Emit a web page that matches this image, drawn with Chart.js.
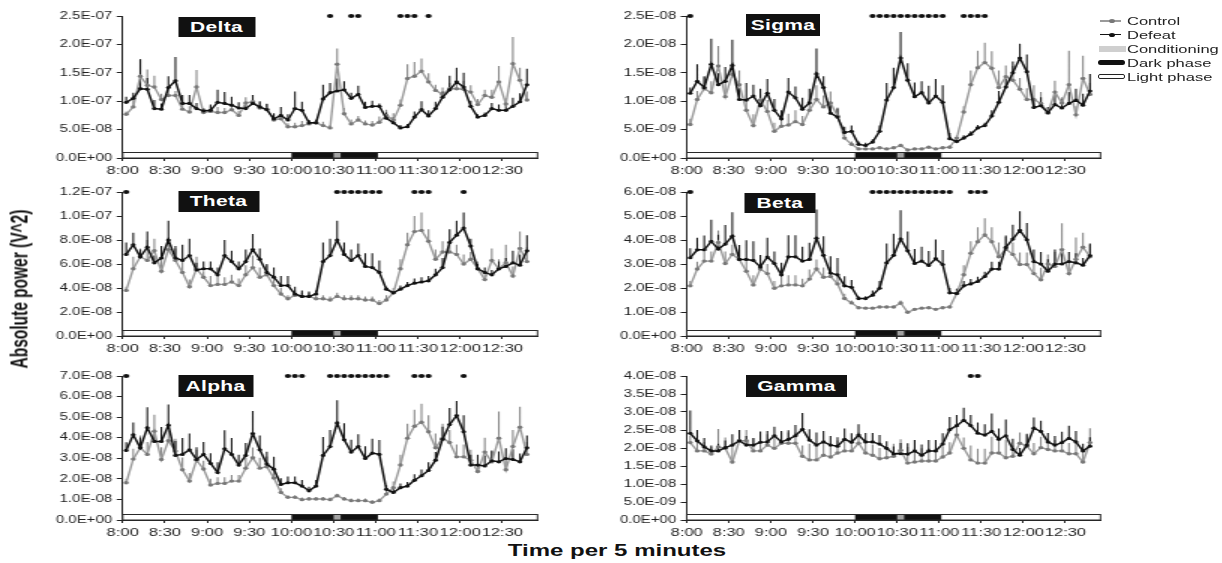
<!DOCTYPE html>
<html>
<head>
<meta charset="utf-8">
<script src="https://cdn.jsdelivr.net/npm/chart.js@4.4.1/dist/chart.umd.min.js"></script>
<style>
  html, body { margin: 0; padding: 0; background: #fff; width: 1222px; height: 563px; overflow: hidden;
    font-family: 'Liberation Sans', Arial, sans-serif; }
  .panel { position: absolute; transform-origin: 0 0; transform: scaleX(1.5); }
  .panel canvas { display: block; }
  .badge { position: absolute; background: #111; color: #fff; font-weight: bold; font-size: 14px;
    text-align: center; letter-spacing: 0.2px; }
  .lg-text { position: absolute; font-size: 11px; line-height: 14px; color: #222; white-space: nowrap;
    transform-origin: 0 50%; transform: scaleX(1.5); }
  .lg-sym { position: absolute; box-sizing: border-box; }
  .axis-title { position: absolute; font-weight: bold; color: #111; white-space: nowrap; }
</style>
</head>
<body>
<script>
// ---- time axis: 5-minute bins from 8:00, labelled every 30 minutes ----
const timeLabels = ['8:00', '8:30', '9:00', '9:30', '10:00', '10:30', '11:00', '11:30', '12:00', '12:30'];
const darkPhaseBins = [23.5, 35.8];      // 10:00 – 11:00
const conditioningBins = [29.5, 30.5];   // 10:30 bin

// ---- Delta (x 1E-07 V^2) ----
const deltaControl = [0.77,0.90,1.44,1.28,1.25,1.03,1.10,1.10,0.86,0.81,1.25,0.80,0.82,0.80,0.80,0.85,0.75,0.97,0.99,0.88,0.86,0.67,0.69,0.55,0.55,0.57,0.60,0.62,0.57,0.53,1.65,0.78,0.60,0.67,0.60,0.58,0.63,0.75,0.67,0.93,1.40,1.44,1.53,1.34,1.19,1.12,1.22,1.22,1.21,1.16,0.94,1.10,1.07,1.34,0.95,1.66,1.37,1.02];
const deltaDefeat = [0.98,1.05,1.22,1.21,0.87,0.86,1.24,1.36,0.96,0.96,0.87,0.83,0.84,0.98,0.96,0.93,0.88,0.87,0.96,0.90,0.85,0.69,0.75,0.67,0.87,0.84,0.62,0.62,1.04,1.15,1.18,1.20,1.05,1.12,0.89,0.91,0.91,0.70,0.62,0.53,0.55,0.72,0.85,0.74,0.87,1.07,1.20,1.34,1.25,0.91,0.72,0.75,0.87,0.84,0.84,0.91,0.99,1.29];
const deltaControlErr = [0.05,0.20,0.30,0.28,0.20,0.10,0.12,0.08,0.15,0.10,0.30,0.06,0.10,0.10,0.08,0.12,0.08,0.10,0.12,0.10,0.10,0.10,0.08,0.06,0.07,0.08,0.07,0.06,0.07,0.05,0.28,0.10,0.08,0.07,0.06,0.07,0.10,0.10,0.12,0.10,0.25,0.25,0.22,0.15,0.10,0.12,0.10,0.12,0.15,0.12,0.10,0.10,0.13,0.28,0.10,0.47,0.22,0.15];
const deltaDefeatErr = [0.10,0.10,0.52,0.20,0.15,0.10,0.20,0.42,0.15,0.15,0.10,0.05,0.10,0.22,0.20,0.15,0.10,0.08,0.15,0.10,0.10,0.10,0.15,0.10,0.30,0.15,0.05,0.05,0.25,0.17,0.22,0.15,0.10,0.15,0.10,0.10,0.05,0.10,0.10,0.05,0.05,0.10,0.15,0.10,0.12,0.10,0.25,0.25,0.25,0.10,0.05,0.05,0.10,0.10,0.10,0.15,0.15,0.28];
const deltaSig = [29,32,33,39,40,41,43];

// ---- Sigma (x 1E-08 V^2) ----
const sigmaControl = [0.59,1.03,1.22,1.15,1.62,1.08,1.47,1.29,0.84,0.57,1.02,0.82,0.47,0.56,0.58,0.64,0.59,0.84,1.03,0.90,0.97,0.74,0.35,0.24,0.16,0.16,0.16,0.18,0.16,0.18,0.22,0.14,0.16,0.16,0.19,0.16,0.18,0.19,0.35,0.81,1.29,1.59,1.68,1.58,1.24,1.43,1.37,1.21,1.03,1.03,0.96,0.79,1.16,0.97,1.29,0.76,1.40,1.12];
const sigmaDefeat = [1.14,1.35,1.24,1.65,1.29,1.35,1.63,1.03,1.02,1.09,0.92,1.14,0.84,0.69,1.16,1.06,0.86,0.97,1.48,1.24,0.79,0.72,0.45,0.47,0.24,0.22,0.28,0.47,1.02,1.24,1.76,1.37,1.08,1.15,0.97,1.09,0.98,0.34,0.29,0.35,0.42,0.53,0.57,0.74,0.98,1.25,1.50,1.76,1.52,0.89,0.92,0.80,0.94,0.88,0.96,1.02,0.93,1.18];
const sigmaControlErr = [0.10,0.15,0.20,0.20,0.35,0.30,0.20,0.25,0.20,0.20,0.10,0.20,0.15,0.20,0.20,0.20,0.15,0.20,0.25,0.20,0.20,0.15,0.10,0.05,0.02,0.02,0.02,0.02,0.02,0.02,0.03,0.02,0.02,0.02,0.02,0.02,0.02,0.03,0.05,0.10,0.25,0.30,0.35,0.30,0.30,0.20,0.25,0.20,0.20,0.25,0.20,0.10,0.20,0.10,0.60,0.15,0.40,0.20];
const sigmaDefeatErr = [0.10,0.30,0.20,0.45,0.20,0.25,0.45,0.20,0.30,0.20,0.30,0.25,0.20,0.15,0.25,0.20,0.20,0.25,0.45,0.20,0.20,0.15,0.10,0.10,0.05,0.05,0.05,0.10,0.30,0.35,0.46,0.30,0.25,0.20,0.30,0.30,0.30,0.10,0.05,0.05,0.05,0.05,0.05,0.10,0.20,0.15,0.20,0.25,0.30,0.15,0.15,0.10,0.20,0.15,0.20,0.20,0.20,0.30];
const sigmaSig = [0,26,27,28,29,30,31,32,33,34,35,36,39,40,41,42];

// ---- Theta (x 1E-08 V^2) ----
const thetaControl = [3.8,5.6,6.6,6.3,7.1,5.4,7.2,6.3,5.3,4.1,5.6,4.9,4.2,4.3,4.3,4.5,4.2,5.1,5.7,4.9,5.1,4.2,3.5,3.1,3.4,3.3,3.3,3.1,3.1,3.0,3.3,3.1,3.1,3.1,3.0,3.0,2.7,3.0,3.6,5.6,7.6,8.7,8.8,7.9,6.4,7.0,7.0,6.8,6.0,6.4,5.6,4.7,6.3,5.6,6.1,5.0,7.3,6.2];
const thetaDefeat = [6.8,7.6,6.6,7.4,6.1,6.5,8.0,6.5,6.3,6.7,5.5,5.6,5.6,5.1,6.7,6.2,5.6,6.2,7.2,6.4,5.3,4.9,4.2,4.2,3.5,3.3,3.3,3.5,6.2,6.7,8.0,6.8,6.3,6.7,5.8,5.7,5.3,3.9,3.6,3.9,4.2,4.4,4.5,4.6,5.1,5.7,7.8,8.4,9.0,7.5,5.6,5.3,5.1,5.6,5.8,6.1,5.9,7.1];
const thetaControlErr = [0.3,1.0,0.7,1.7,1.0,1.2,1.0,1.0,1.2,0.6,1.0,0.5,0.8,0.7,0.6,0.6,0.6,0.8,1.0,0.8,0.8,0.6,0.5,0.3,0.4,0.3,0.3,0.3,0.3,0.3,0.3,0.3,0.3,0.3,0.3,0.3,0.3,0.4,0.4,0.8,1.0,1.3,1.5,1.0,0.8,0.9,0.9,0.8,0.8,0.6,0.6,0.6,1.0,0.8,1.5,0.8,1.4,1.2];
const thetaDefeatErr = [1.0,1.0,0.6,1.3,0.6,1.0,1.6,1.0,1.3,1.4,0.6,0.6,0.6,0.6,1.3,0.9,0.6,1.0,1.3,0.9,0.7,0.8,0.8,0.8,0.6,0.5,0.4,0.3,1.6,1.4,1.6,1.0,0.9,1.0,1.1,1.2,1.0,0.2,0.2,0.3,0.3,0.4,0.4,0.4,0.5,0.8,1.1,1.2,1.3,0.6,0.4,0.4,0.4,0.6,0.7,1.0,0.9,1.3];
const thetaSig = [0,30,31,32,33,34,35,36,41,42,43,48];

// ---- Beta (x 1E-08 V^2) ----
const betaControl = [2.09,2.79,3.12,3.12,3.90,3.02,3.40,3.19,2.70,2.13,2.79,2.60,1.99,2.09,2.13,2.13,2.09,2.37,2.79,2.45,2.48,2.17,1.56,1.38,1.18,1.16,1.16,1.21,1.21,1.21,1.38,0.99,1.11,1.16,1.18,1.11,1.18,1.21,1.77,2.55,3.45,3.93,4.21,3.93,3.30,3.62,3.40,2.98,2.98,2.60,2.34,3.00,2.90,3.60,2.60,3.20,3.70,3.30];
const betaDefeat = [3.26,3.59,3.59,3.94,3.62,3.83,4.16,3.19,3.19,3.15,2.88,3.29,3.02,2.55,3.30,3.30,3.12,3.19,4.07,3.36,2.62,2.55,2.09,2.03,1.56,1.56,1.70,1.99,3.05,3.36,4.04,3.55,3.02,3.12,2.94,3.22,2.98,1.80,1.77,2.09,2.17,2.27,2.48,2.79,2.79,3.69,4.04,4.40,4.01,3.10,3.00,2.70,3.00,3.00,3.10,3.05,2.95,3.35];
const betaControlErr = [0.2,0.3,0.4,0.4,0.5,0.5,0.4,0.4,0.5,0.4,0.4,0.4,0.3,0.4,0.4,0.4,0.3,0.4,0.4,0.4,0.4,0.4,0.2,0.1,0.05,0.05,0.05,0.05,0.05,0.05,0.1,0.05,0.05,0.05,0.05,0.05,0.05,0.05,0.2,0.4,0.5,0.6,0.7,0.6,0.6,0.5,0.5,0.5,0.5,0.5,0.5,0.4,0.6,1.1,0.5,0.9,0.6,0.5];
const betaDefeatErr = [0.4,0.5,0.6,0.9,0.6,0.8,1.0,0.6,0.8,0.8,0.5,0.8,0.5,0.5,0.9,0.9,0.6,0.7,1.2,0.8,0.7,0.7,0.4,0.3,0.1,0.1,0.2,0.3,0.8,0.9,1.2,0.8,0.6,0.6,0.6,0.8,0.6,0.2,0.2,0.2,0.2,0.2,0.2,0.3,0.3,0.5,0.6,0.8,0.7,0.5,0.5,0.5,0.6,0.6,0.4,0.4,0.3,0.5];
const betaSig = [0,26,27,28,29,30,31,32,33,34,35,36,37,40,41,42];

// ---- Alpha (x 1E-08 V^2) ----
const alphaControl = [1.81,2.96,3.51,3.19,4.32,2.94,3.85,3.35,2.44,1.89,2.91,2.48,1.70,1.78,1.78,1.89,1.89,2.52,3.03,2.52,2.59,2.04,1.34,1.10,1.10,0.99,1.02,1.02,1.02,0.99,1.18,1.02,0.94,0.94,0.94,0.86,0.94,1.26,1.57,2.67,3.98,4.56,4.75,4.29,3.51,3.98,3.77,3.07,3.07,2.91,2.36,3.30,2.83,3.98,2.44,3.57,4.51,3.19];
const alphaDefeat = [3.38,4.14,3.51,4.48,3.82,3.82,4.61,3.14,3.19,3.41,2.94,3.19,2.75,2.31,3.46,3.19,2.67,3.14,4.20,3.41,2.72,2.47,1.73,1.81,1.81,1.65,1.42,1.65,3.14,3.57,4.72,3.90,3.30,3.57,2.99,3.25,3.19,1.49,1.34,1.57,1.65,1.93,2.15,2.41,2.91,3.93,4.64,5.08,4.29,2.67,2.67,2.63,2.88,2.83,2.99,2.94,2.83,3.51];
const alphaControlErr = [0.2,0.5,0.6,0.6,0.8,0.6,0.5,0.6,0.6,0.4,0.5,0.4,0.3,0.3,0.3,0.3,0.3,0.5,0.5,0.5,0.5,0.4,0.2,0.1,0.1,0.1,0.1,0.1,0.1,0.1,0.1,0.1,0.1,0.1,0.1,0.1,0.1,0.2,0.3,0.5,0.7,0.8,0.9,0.8,0.7,0.7,0.6,0.6,0.6,0.5,0.4,0.7,0.5,1.3,0.6,0.8,1.0,0.6];
const alphaDefeatErr = [0.4,0.6,0.5,1.0,0.5,0.7,1.0,0.7,0.8,0.8,0.6,0.6,0.5,0.5,0.9,0.8,0.5,0.6,1.1,0.7,0.6,0.6,0.3,0.3,0.3,0.3,0.2,0.3,0.9,0.8,1.1,0.8,0.6,0.6,0.6,0.7,0.7,0.2,0.2,0.2,0.2,0.3,0.3,0.4,0.4,0.6,0.8,0.7,0.8,0.5,0.5,0.5,0.5,0.5,0.5,0.5,0.4,0.6];
const alphaSig = [0,23,24,25,29,30,31,32,33,34,35,36,37,41,42,43,48];

// ---- Gamma (x 1E-08 V^2) ----
const gammaControl = [2.15,1.92,1.92,1.83,2.03,1.99,1.61,2.20,2.20,1.92,1.92,2.08,1.99,2.13,2.13,2.13,1.77,1.67,1.67,1.80,1.75,1.86,1.92,1.92,2.13,1.86,1.80,1.70,1.73,1.77,1.94,1.58,1.61,1.64,1.64,1.64,1.75,1.86,2.36,1.99,1.67,1.58,1.58,1.86,1.86,1.73,1.77,2.13,2.05,1.84,2.01,1.96,1.92,1.92,1.84,1.84,1.61,2.15];
const gammaDefeat = [2.41,2.20,2.03,1.92,1.92,2.01,2.08,2.20,2.08,2.08,2.16,2.17,2.34,2.17,2.24,2.34,2.52,2.22,2.08,2.17,2.08,2.05,2.24,2.16,2.36,2.17,2.17,2.11,1.99,1.84,1.84,1.83,1.92,1.80,1.92,1.92,2.11,2.51,2.62,2.77,2.62,2.41,2.36,2.46,2.24,2.34,1.96,1.80,2.08,2.55,2.46,2.17,2.08,2.15,2.27,2.17,1.92,2.05];
const gammaControlErr = [0.2,0.25,0.25,0.2,0.5,0.3,0.5,0.3,0.3,0.35,0.3,0.3,0.3,0.3,0.3,0.3,0.3,0.45,0.4,0.4,0.35,0.35,0.3,0.3,0.3,0.3,0.3,0.3,0.3,0.35,0.3,0.45,0.4,0.35,0.35,0.35,0.3,0.3,0.3,0.3,0.4,0.4,0.4,0.45,0.4,0.5,0.3,0.3,0.35,0.3,0.3,0.3,0.3,0.3,0.3,0.3,0.35,0.4];
const gammaDefeatErr = [0.63,0.3,0.25,0.15,0.2,0.2,0.3,0.3,0.25,0.2,0.3,0.3,0.25,0.3,0.25,0.3,0.45,0.3,0.35,0.3,0.25,0.25,0.3,0.25,0.3,0.25,0.25,0.25,0.2,0.2,0.3,0.3,0.3,0.3,0.3,0.3,0.3,0.35,0.3,0.35,0.3,0.3,0.3,0.5,0.3,0.45,0.3,0.2,0.3,0.3,0.3,0.25,0.25,0.3,0.35,0.3,0.2,0.25];
const gammaSig = [40,41];

// ---- legend entries ----
const legendLabels = ['Control', 'Defeat', 'Conditioning', 'Dark phase', 'Light phase'];

// ---- layout ----
const STRETCH = 1.5;            // figure is drawn horizontally stretched
const CANVAS_W = 370;
const PAD_TOP = 16, X_AXIS_H = 22, PHASE_H = 5.5;
const COLS = [
  { left: 0,   axisLeft: 122.7, axisRight: 537.5 },
  { left: 560, axisLeft: 686.7, axisRight: 1100.5 }
];
const ROWS = [
  { top: 16,    bottom: 158 },
  { top: 192,   bottom: 336 },
  { top: 375.5, bottom: 520 }
];
const FONT = "'Liberation Sans', Arial, sans-serif";
const CONTROL_LINE = '#9a9a9a', CONTROL_POINT = '#787878', CONTROL_ERR = '#888888';
const DEFEAT_LINE = '#121212', DEFEAT_ERR = '#1a1a1a';

const panels = [
  { name: 'Delta', unit: 1e-7, yMax: 2.5, yStep: 0.5, control: deltaControl, defeat: deltaDefeat,
    controlErr: deltaControlErr, defeatErr: deltaDefeatErr, sig: deltaSig, col: 0, row: 0, badge: [178, 16.5, 77, 20] },
  { name: 'Sigma', unit: 1e-8, yMax: 2.5, yStep: 0.5, control: sigmaControl, defeat: sigmaDefeat,
    controlErr: sigmaControlErr, defeatErr: sigmaDefeatErr, sig: sigmaSig, col: 1, row: 0, badge: [746, 14, 74, 22] },
  { name: 'Theta', unit: 1e-8, yMax: 12, yStep: 2, control: thetaControl, defeat: thetaDefeat,
    controlErr: thetaControlErr, defeatErr: thetaDefeatErr, sig: thetaSig, col: 0, row: 1, badge: [178, 191, 81, 21] },
  { name: 'Beta', unit: 1e-8, yMax: 6, yStep: 1, control: betaControl, defeat: betaDefeat,
    controlErr: betaControlErr, defeatErr: betaDefeatErr, sig: betaSig, col: 1, row: 1, badge: [745, 193, 70, 20] },
  { name: 'Alpha', unit: 1e-8, yMax: 7, yStep: 1, control: alphaControl, defeat: alphaDefeat,
    controlErr: alphaControlErr, defeatErr: alphaDefeatErr, sig: alphaSig, col: 0, row: 2, badge: [178, 375, 75, 22] },
  { name: 'Gamma', unit: 1e-8, yMax: 4, yStep: 0.5, control: gammaControl, defeat: gammaDefeat,
    controlErr: gammaControlErr, defeatErr: gammaDefeatErr, sig: gammaSig, col: 1, row: 2, badge: [746, 375, 101, 22] }
];

function sciLabel(v) {
  if (Math.abs(v) < 1e-15) return '0.0E+00';
  const [m, e] = v.toExponential(1).split('e');
  const n = parseInt(e, 10);
  return m + 'E' + (n < 0 ? '-' : '+') + String(Math.abs(n)).padStart(2, '0');
}

Chart.defaults.font.family = FONT;
Chart.defaults.color = '#222';

panels.forEach(p => {
  const c = COLS[p.col], r = ROWS[p.row];
  const wrapTop = r.top - PAD_TOP;
  const h = r.bottom - r.top + PAD_TOP + X_AXIS_H;

  const wrap = document.createElement('div');
  wrap.className = 'panel';
  Object.assign(wrap.style, { left: c.left + 'px', top: wrapTop + 'px', width: CANVAS_W + 'px', height: h + 'px' });
  const canvas = document.createElement('canvas');
  canvas.width = CANVAS_W; canvas.height = h;
  canvas.style.width = CANVAS_W + 'px'; canvas.style.height = h + 'px';
  wrap.appendChild(canvas);

  const [bx, by, bw, bh] = p.badge;
  const badge = document.createElement('div');
  badge.className = 'badge';
  badge.textContent = p.name;
  Object.assign(badge.style, {
    left: ((bx - c.left) / STRETCH) + 'px', top: (by - wrapTop) + 'px',
    width: (bw / STRETCH) + 'px', height: bh + 'px', lineHeight: bh + 'px'
  });
  wrap.appendChild(badge);
  document.body.appendChild(wrap);

  const yW = (c.axisLeft - c.left) / STRETCH;
  const padR = CANVAS_W - (c.axisRight - c.left) / STRETCH;
  const toPoints = arr => arr.map((v, i) => ({ x: i, y: v * p.unit }));
  const nTicks = Math.round(p.yMax / p.yStep);

  // light/dark phase strip along the time axis
  const phaseBar = {
    id: 'phaseBar',
    beforeDatasetsDraw(chart) {
      const { ctx, chartArea: a, scales: { x } } = chart;
      const top = a.bottom - PHASE_H;
      ctx.save();
      ctx.fillStyle = '#fff';
      ctx.fillRect(a.left, top, a.right - a.left, PHASE_H);
      const seg = (range, color) => {
        const x0 = x.getPixelForValue(range[0]), x1 = x.getPixelForValue(range[1]);
        ctx.fillStyle = color;
        ctx.fillRect(x0, top, x1 - x0, PHASE_H);
      };
      seg(darkPhaseBins, '#111');
      seg(conditioningBins, '#a3a3a3');
      ctx.strokeStyle = '#2a2a2a';
      ctx.lineWidth = 1;
      ctx.strokeRect(a.left, top, a.right - a.left, PHASE_H);
      ctx.restore();
    }
  };

  // upward SEM whiskers
  const errorBars = {
    id: 'errorBars',
    beforeDatasetsDraw(chart) {
      const { ctx, scales: { x, y } } = chart;
      ctx.save();
      for (let d = chart.data.datasets.length - 1; d >= 0; d--) {
        const ds = chart.data.datasets[d];
        ctx.strokeStyle = ds.errColor;
        ctx.lineWidth = 1.1;
        ctx.beginPath();
        ds.data.forEach((pt, i) => {
          const px = x.getPixelForValue(pt.x);
          ctx.moveTo(px, y.getPixelForValue(pt.y));
          ctx.lineTo(px, y.getPixelForValue(pt.y + ds.errors[i] * p.unit));
        });
        ctx.stroke();
      }
      ctx.restore();
    }
  };

  // significance markers along the top edge
  const sigMarks = {
    id: 'sigMarks',
    afterDatasetsDraw(chart) {
      const { ctx, chartArea: a, scales: { x } } = chart;
      ctx.save();
      ctx.fillStyle = '#111';
      p.sig.forEach(i => {
        ctx.beginPath();
        ctx.ellipse(x.getPixelForValue(i), a.top, 2.1, 1.9, 0, 0, Math.PI * 2);
        ctx.fill();
      });
      ctx.restore();
    }
  };

  new Chart(canvas, {
    type: 'line',
    data: {
      datasets: [
        { label: 'Defeat', data: toPoints(p.defeat), errors: p.defeatErr, errColor: DEFEAT_ERR,
          borderColor: DEFEAT_LINE, backgroundColor: DEFEAT_LINE, borderWidth: 1.5,
          pointRadius: 1.6, pointBorderWidth: 0, pointBackgroundColor: DEFEAT_LINE, tension: 0 },
        { label: 'Control', data: toPoints(p.control), errors: p.controlErr, errColor: CONTROL_ERR,
          borderColor: CONTROL_LINE, backgroundColor: CONTROL_POINT, borderWidth: 1.4,
          pointRadius: 1.7, pointBorderWidth: 0, pointBackgroundColor: CONTROL_POINT, tension: 0 }
      ]
    },
    options: {
      responsive: false,
      animation: false,
      devicePixelRatio: 1,
      events: [],
      layout: { padding: { top: PAD_TOP, right: padR, bottom: 0, left: 0 } },
      plugins: { legend: { display: false }, tooltip: { enabled: false } },
      scales: {
        x: {
          type: 'linear', min: -0.5, max: 58.5,
          afterBuildTicks: s => { s.ticks = timeLabels.map((_, k) => ({ value: -0.5 + 6 * k })); },
          afterFit: s => { s.height = X_AXIS_H; },
          ticks: { autoSkip: false, maxRotation: 0, minRotation: 0, padding: 3, color: '#222',
            font: { size: 11 }, callback: (v, idx) => timeLabels[idx] },
          grid: { drawOnChartArea: false, drawTicks: true, tickLength: 3, color: '#222', lineWidth: 1 },
          border: { display: true, color: '#222', width: 1 }
        },
        y: {
          min: 0, max: p.yMax * p.unit,
          afterBuildTicks: s => {
            s.ticks = Array.from({ length: nTicks + 1 }, (_, k) => ({ value: k * p.yStep * p.unit }));
          },
          afterFit: s => { s.width = yW; },
          ticks: { padding: 3, color: '#222', font: { size: 10 }, callback: v => sciLabel(v) },
          grid: { drawOnChartArea: false, drawTicks: true, tickLength: 4, color: '#222', lineWidth: 1 },
          border: { display: true, color: '#222', width: 1 }
        }
      }
    },
    plugins: [phaseBar, errorBars, sigMarks]
  });
});

// ---- legend ----
(function buildLegend() {
  const rowsY = [21, 34.5, 48.5, 62.5, 76.5];
  const symbols = [
    { type: 'line', line: CONTROL_LINE, dot: CONTROL_POINT },
    { type: 'line', line: DEFEAT_LINE, dot: DEFEAT_LINE },
    { type: 'bar', fill: '#cfcfcf', border: 'none', h: 6, x0: 1099, x1: 1126 },
    { type: 'bar', fill: '#111', border: 'none', h: 5, x0: 1098, x1: 1125, radius: 3 },
    { type: 'bar', fill: '#fff', border: '1px solid #222', h: 5, x0: 1098, x1: 1125, radius: 2 }
  ];
  legendLabels.forEach((label, i) => {
    const y = rowsY[i], s = symbols[i];
    if (s.type === 'line') {
      const ln = document.createElement('div');
      ln.className = 'lg-sym';
      Object.assign(ln.style, { left: '1100px', top: (y - 0.75) + 'px', width: '21px', height: '1.5px', background: s.line });
      document.body.appendChild(ln);
      const dt = document.createElement('div');
      dt.className = 'lg-sym';
      Object.assign(dt.style, { left: '1109px', top: (y - 2) + 'px', width: '6px', height: '4px', borderRadius: '50%', background: s.dot });
      document.body.appendChild(dt);
    } else {
      const b = document.createElement('div');
      b.className = 'lg-sym';
      Object.assign(b.style, { left: s.x0 + 'px', top: (y - s.h / 2) + 'px', width: (s.x1 - s.x0) + 'px', height: s.h + 'px',
        background: s.fill, border: s.border, borderRadius: (s.radius || 0) + 'px' });
      document.body.appendChild(b);
    }
    const t = document.createElement('div');
    t.className = 'lg-text';
    t.textContent = label;
    Object.assign(t.style, { left: '1127px', top: (y - 7) + 'px' });
    document.body.appendChild(t);
  });
})();

// ---- axis titles ----
(function axisTitles() {
  const xt = document.createElement('div');
  xt.className = 'axis-title';
  xt.textContent = 'Time per 5 minutes';
  Object.assign(xt.style, { left: '617px', top: '551px', fontSize: '16px',
    transform: 'translate(-50%, -50%) scaleX(1.5)' });
  document.body.appendChild(xt);

  const yt = document.createElement('div');
  yt.className = 'axis-title';
  yt.textContent = 'Absolute power (V^2)';
  Object.assign(yt.style, { left: '20px', top: '289px', fontSize: '15.5px',
    transform: 'translate(-50%, -50%) scaleX(1.5) rotate(-90deg)' });
  document.body.appendChild(yt);
})();
</script>
</body>
</html>
